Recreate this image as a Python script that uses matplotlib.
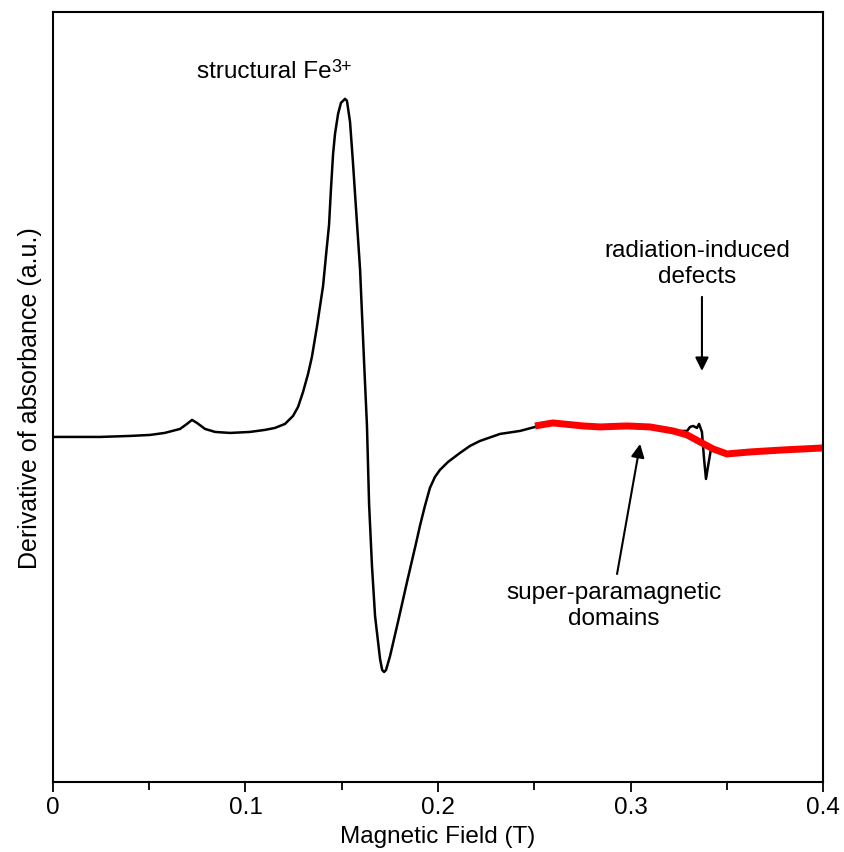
import matplotlib

matplotlib.use("Agg")
import matplotlib.pyplot as plt
from matplotlib.ticker import FuncFormatter, MultipleLocator

plt.rcParams["font.family"] = ["Liberation Sans", "DejaVu Sans"]

# full EPR spectrum (field in T, derivative in a.u.)
field = [
    0.0, 0.014, 0.0244, 0.040, 0.0504, 0.058, 0.066, 0.0696, 0.0722, 0.0748,
    0.079, 0.0842, 0.092, 0.1023, 0.110, 0.1153, 0.1205, 0.1247, 0.1273, 0.1299,
    0.1325, 0.1345, 0.1371, 0.1403, 0.1418, 0.1434, 0.1444, 0.1455, 0.1465, 0.1481,
    0.1496, 0.1517, 0.1527, 0.1543, 0.1558, 0.1579, 0.1595, 0.1616, 0.1631, 0.1642,
    0.1657, 0.1673, 0.1699, 0.171, 0.172, 0.173, 0.1751, 0.1792, 0.1839, 0.1891,
    0.1906, 0.1932, 0.1958, 0.1984, 0.2010, 0.2052, 0.2114, 0.2166, 0.2218, 0.2322,
    0.2426, 0.2504, 0.2597, 0.2753, 0.2842, 0.2982, 0.3101, 0.3221, 0.3294, 0.3309,
    0.3325, 0.3345, 0.3356, 0.3371, 0.3382, 0.3392, 0.3403, 0.3418, 0.3439, 0.3501,
    0.3621, 0.3792, 0.4,
]
signal = [
    0.0, 0.0, 0.0, 0.01, 0.02, 0.04, 0.08, 0.13, 0.17, 0.14,
    0.08, 0.05, 0.04, 0.05, 0.07, 0.09, 0.13, 0.21, 0.30, 0.45,
    0.63, 0.80, 1.10, 1.51, 1.81, 2.12, 2.48, 2.83, 3.03, 3.23,
    3.34, 3.38, 3.36, 3.15, 2.75, 2.14, 1.68, 0.75, 0.11, -0.67,
    -1.29, -1.79, -2.22, -2.33, -2.35, -2.33, -2.19, -1.85, -1.45, -1.02,
    -0.89, -0.69, -0.51, -0.40, -0.33, -0.25, -0.16, -0.09, -0.04, 0.03,
    0.06, 0.10, 0.14, 0.11, 0.10, 0.11, 0.10, 0.06, 0.06, 0.10,
    0.11, 0.09, 0.13, 0.05, -0.22, -0.42, -0.29, -0.12, -0.12, -0.17,
    -0.15, -0.13, -0.11,
]

# broad super-paramagnetic component (red)
field_spm = [
    0.2504, 0.2597, 0.2753, 0.2842, 0.2982, 0.3101, 0.3221, 0.3294, 0.3361, 0.3429,
    0.3501, 0.3621, 0.3792, 0.4,
]
signal_spm = [
    0.11, 0.14, 0.11, 0.10, 0.11, 0.10, 0.06, 0.02, -0.05, -0.12,
    -0.17, -0.15, -0.13, -0.11,
]

fig = plt.figure(figsize=(8.45, 8.53), dpi=100)
ax = fig.add_axes([0.0627, 0.082, 0.9113, 0.903])

ax.plot(field, signal, color="black", linewidth=1.8)
ax.plot(field_spm, signal_spm, color="#ff0000", linewidth=5, solid_capstyle="butt")

ax.set_xlim(0, 0.4)
ax.set_ylim(-3.45, 4.25)
ax.xaxis.set_major_locator(MultipleLocator(0.1))
ax.xaxis.set_minor_locator(MultipleLocator(0.05))
ax.xaxis.set_major_formatter(FuncFormatter(lambda v, pos: f"{v:g}"))
ax.set_yticks([])
ax.tick_params(axis="x", which="major", direction="out", length=7, width=1.3,
               labelsize=17.5, pad=3)
ax.tick_params(axis="x", which="minor", direction="out", length=6, width=1.3)
for spine in ax.spines.values():
    spine.set_linewidth(1.5)

ax.set_xlabel("Magnetic Field (T)", fontsize=17.5, labelpad=5)
ax.set_ylabel("Derivative of absorbance (a.u.)", fontsize=18, labelpad=8)

t = ax.text(0.0748, 3.66, "structural Fe", fontsize=17.5, ha="left", va="center")
ax.annotate("3+", xy=(1.0, 0.3), xycoords=t, fontsize=13, ha="left", va="bottom")

ax.text(0.3345, 1.74, "radiation-induced\ndefects", fontsize=17.5,
        ha="center", va="center")
ax.annotate("", xy=(0.3371, 0.66), xytext=(0.3371, 1.40),
            arrowprops=dict(arrowstyle="-|>", color="black", lw=1.5,
                            mutation_scale=20, shrinkA=0, shrinkB=0))

ax.text(0.2914, -1.68, "super-paramagnetic\ndomains", fontsize=17.5,
        ha="center", va="center")
ax.annotate("", xy=(0.305, -0.07), xytext=(0.293, -1.37),
            arrowprops=dict(arrowstyle="-|>", color="black", lw=1.5,
                            mutation_scale=20, shrinkA=0, shrinkB=0))

fig.savefig("out.png", dpi=100)
